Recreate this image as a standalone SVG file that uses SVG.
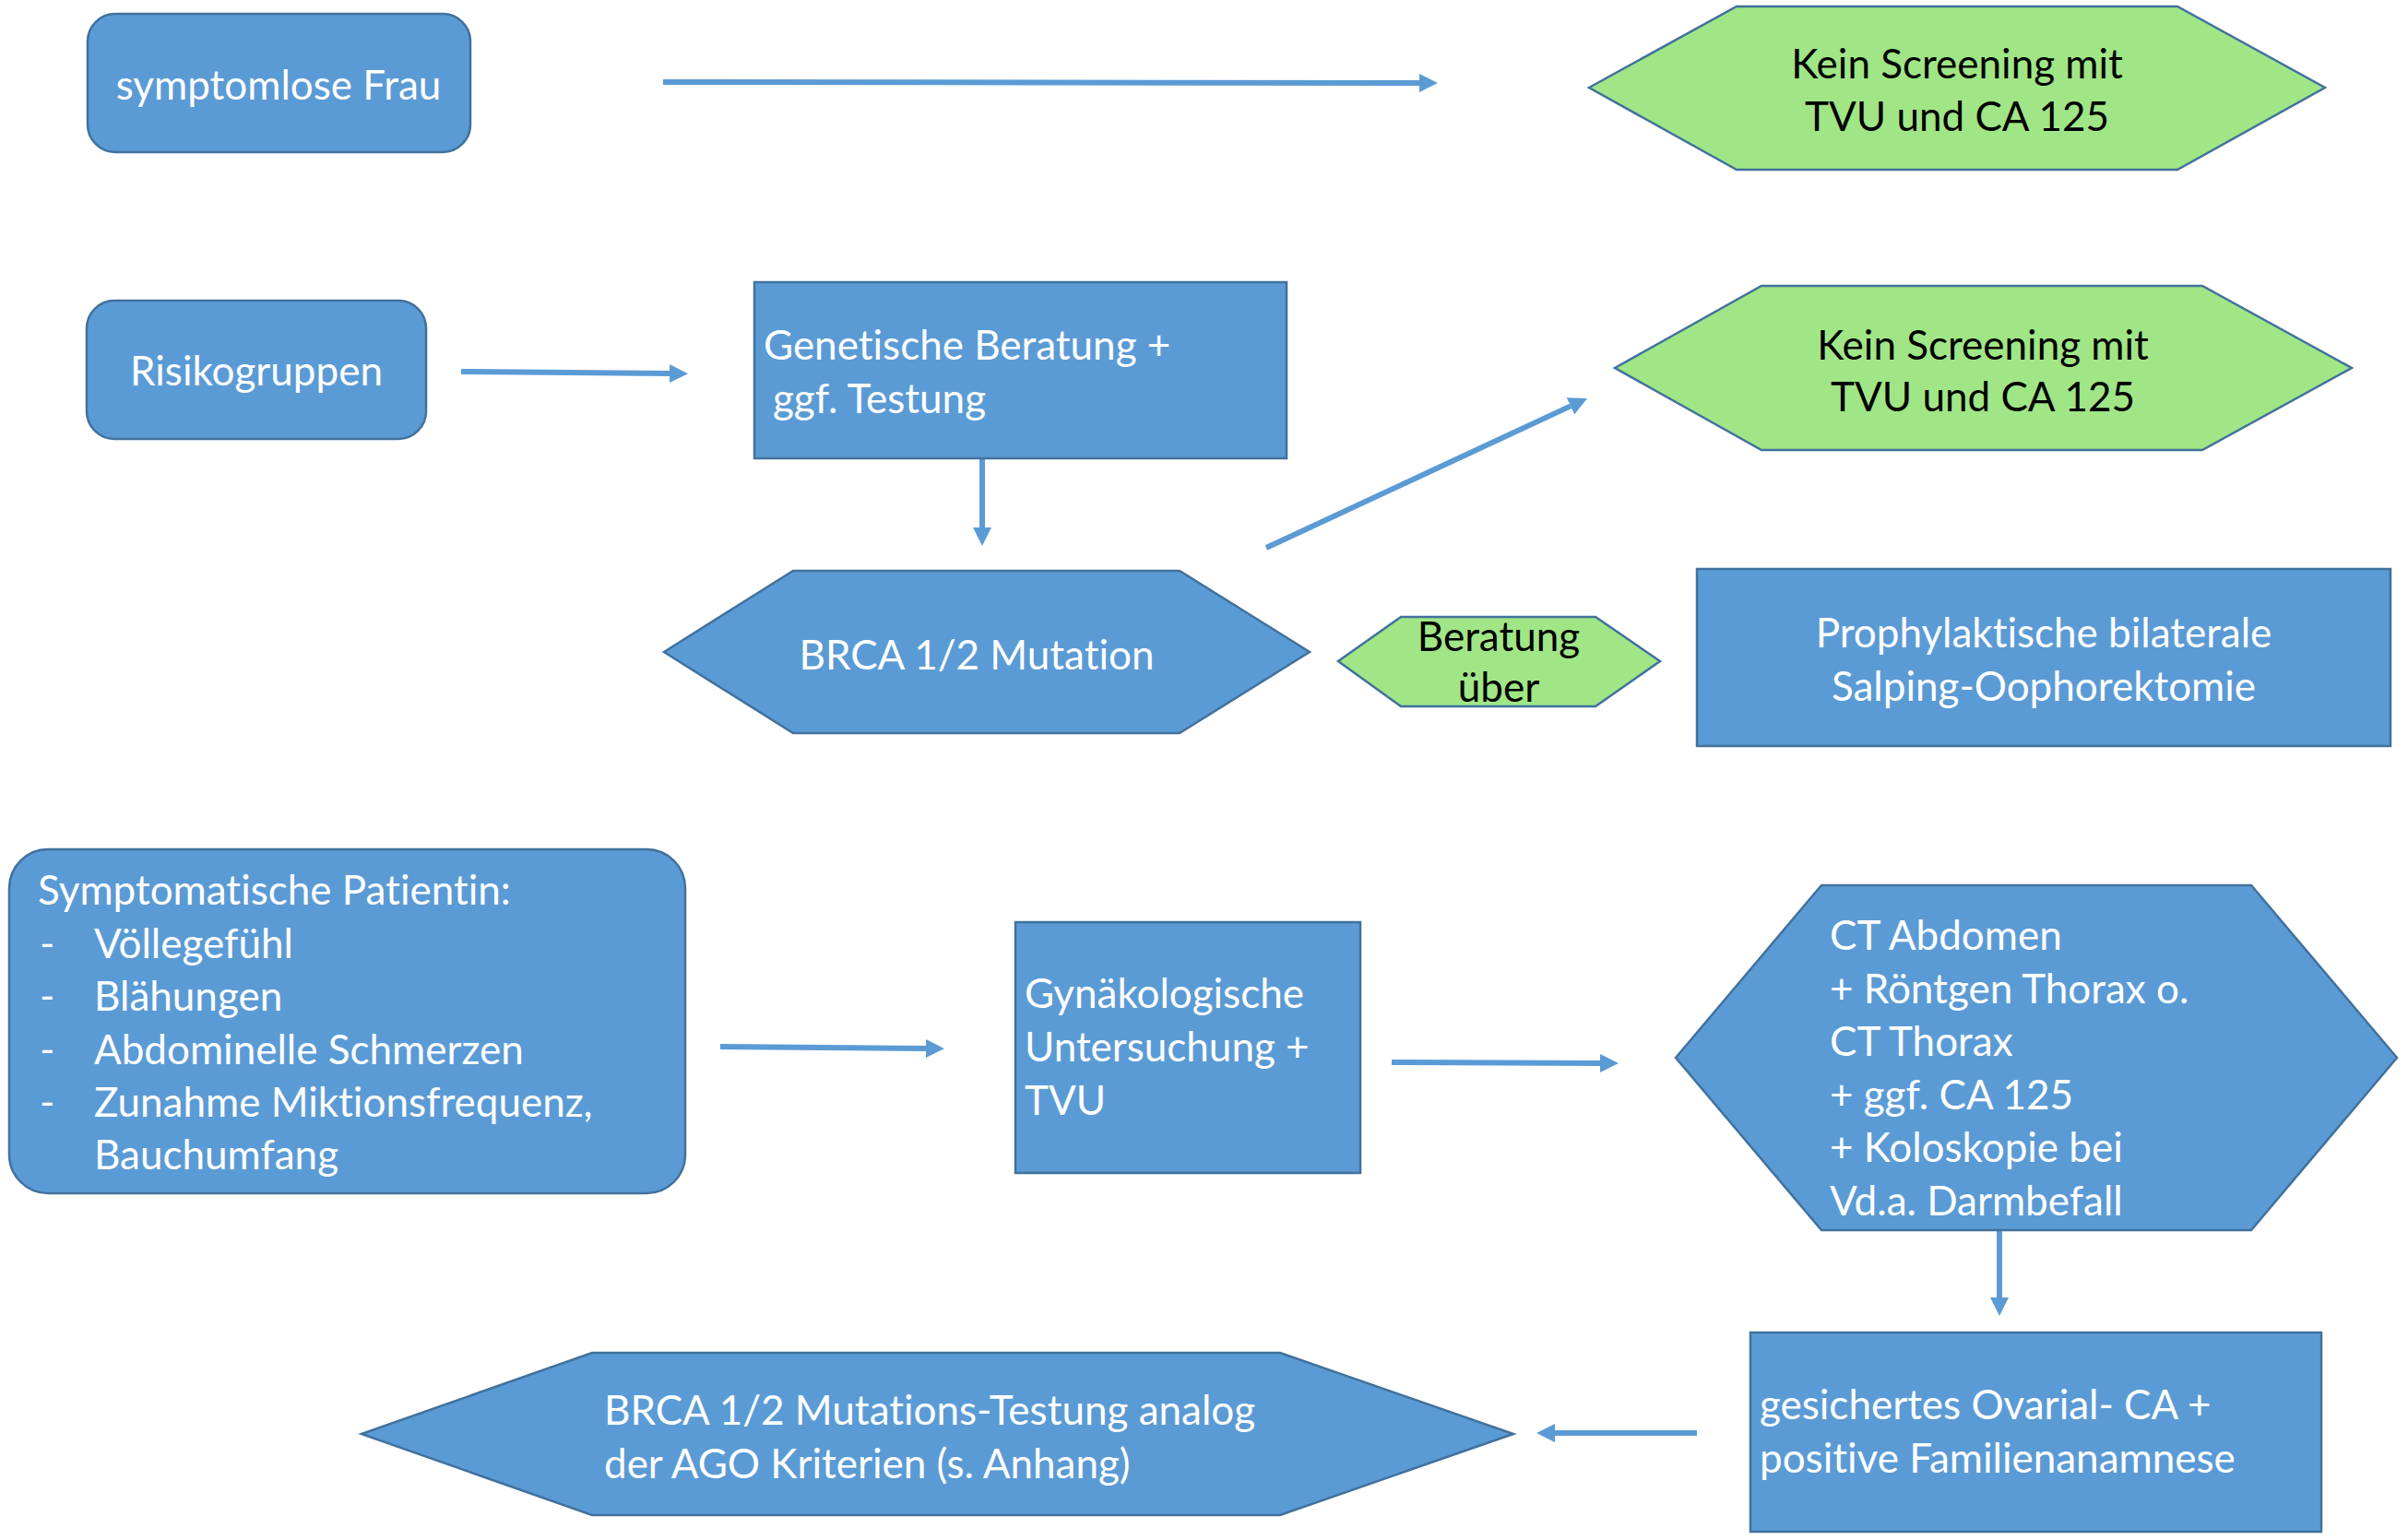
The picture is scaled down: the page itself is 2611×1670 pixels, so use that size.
<svg xmlns="http://www.w3.org/2000/svg" width="2611" height="1670" viewBox="0 0 2611 1670">
  <style>
    .blue { fill: #5b9bd5; stroke: #41719c; stroke-width: 2.5; }
    .green { fill: #a0e686; stroke: #41719c; stroke-width: 2.5; }
    .t { font-family: Lato, "Open Sans", "Liberation Sans", sans-serif; font-size: 44px; font-variant-ligatures: none; }
    .w { fill: #ffffff; }
    .k { fill: #000000; }
    .mid { text-anchor: middle; }
    .link { stroke: #5b9bd5; stroke-width: 6; fill: none; marker-end: url(#head); }
  </style>
  <defs>
    <marker id="head" markerUnits="userSpaceOnUse" markerWidth="20" markerHeight="20" viewBox="0 0 20 20" refX="0" refY="10" orient="auto">
      <path d="M0,0 L20,10 L0,20 Z" fill="#5b9bd5"/>
    </marker>
  </defs>
  <rect width="2611" height="1670" fill="#ffffff"/>

  <!-- connectors -->
  <g id="connectors">
    <line class="link" x1="719" y1="89" x2="1539" y2="90"/>
    <line class="link" x1="500" y1="403" x2="726" y2="405"/>
    <line class="link" x1="1065" y1="497" x2="1065" y2="572"/>
    <line class="link" x1="1373" y1="594" x2="1702.9" y2="440.4"/>
    <line class="link" x1="781" y1="1135" x2="1004" y2="1137"/>
    <line class="link" x1="1509" y1="1152" x2="1735" y2="1153"/>
    <line class="link" x1="2168" y1="1334" x2="2168" y2="1407"/>
    <line class="link" x1="1840" y1="1554" x2="1686" y2="1554"/>
  </g>

  <!-- row 1: symptom-free women -->
  <g id="symptomlose-frau">
    <rect class="blue" x="95" y="15" width="415" height="150" rx="30" ry="30"/>
    <text class="t w mid" x="302" y="108">symptomlose Frau</text>
  </g>
  <g id="kein-screening-1">
    <polygon class="green" points="1723,95 1883,7 2361,7 2521,95 2361,184 1883,184"/>
    <text class="t k mid" x="2122" y="85">Kein Screening mit</text>
    <text class="t k mid" x="2122" y="142">TVU und CA 125</text>
  </g>

  <!-- row 2: risk groups -->
  <g id="risikogruppen">
    <rect class="blue" x="94" y="326" width="368" height="150" rx="30" ry="30"/>
    <text class="t w mid" x="278" y="418">Risikogruppen</text>
  </g>
  <g id="genetische-beratung">
    <rect class="blue" x="818" y="306" width="577" height="191"/>
    <text class="t w" x="828" y="390">Genetische Beratung +</text>
    <text class="t w" x="838" y="448">ggf. Testung</text>
  </g>
  <g id="kein-screening-2">
    <polygon class="green" points="1751,399 1910,310 2388,310 2550,399 2388,488 1910,488"/>
    <text class="t k mid" x="2150" y="390">Kein Screening mit</text>
    <text class="t k mid" x="2150" y="446">TVU und CA 125</text>
  </g>
  <g id="brca-mutation">
    <polygon class="blue" points="720,707 860,619 1279,619 1420,707 1279,795 860,795"/>
    <text class="t w mid" x="1059" y="726">BRCA 1/2 Mutation</text>
  </g>
  <g id="beratung-ueber">
    <polygon class="green" points="1451,717 1519,669 1730,669 1800,717 1730,766 1519,766"/>
    <text class="t k mid" x="1625" y="706">Beratung</text>
    <text class="t k mid" x="1625" y="761">über</text>
  </g>
  <g id="prophylaktische-oophorektomie">
    <rect class="blue" x="1840" y="617" width="752" height="192"/>
    <text class="t w mid" x="2216" y="702">Prophylaktische bilaterale</text>
    <text class="t w mid" x="2216" y="760">Salping-Oophorektomie</text>
  </g>

  <!-- row 3: symptomatic patients -->
  <g id="symptomatische-patientin">
    <rect class="blue" x="10" y="921" width="733" height="373" rx="42" ry="42"/>
    <text class="t w" x="41" y="981">Symptomatische Patientin:</text>
    <text class="t w" x="43" y="1039">-</text>
    <text class="t w" x="102" y="1039">Völlegefühl</text>
    <text class="t w" x="43" y="1096">-</text>
    <text class="t w" x="102" y="1096">Blähungen</text>
    <text class="t w" x="43" y="1154">-</text>
    <text class="t w" x="102" y="1154">Abdominelle Schmerzen</text>
    <text class="t w" x="43" y="1211">-</text>
    <text class="t w" x="102" y="1211">Zunahme Miktionsfrequenz,</text>
    <text class="t w" x="102" y="1268">Bauchumfang</text>
  </g>
  <g id="gynaekologische-untersuchung">
    <rect class="blue" x="1101" y="1000" width="374" height="272"/>
    <text class="t w" x="1111" y="1093">Gynäkologische</text>
    <text class="t w" x="1111" y="1151">Untersuchung +</text>
    <text class="t w" x="1111" y="1209">TVU</text>
  </g>
  <g id="ct-abdomen">
    <polygon class="blue" points="1817,1147 1975,960 2441,960 2599,1147 2441,1334 1975,1334"/>
    <text class="t w" x="1984" y="1030">CT Abdomen</text>
    <text class="t w" x="1984" y="1088">+ Röntgen Thorax o.</text>
    <text class="t w" x="1984" y="1145">CT Thorax</text>
    <text class="t w" x="1984" y="1203">+ ggf. CA 125</text>
    <text class="t w" x="1984" y="1260">+ Koloskopie bei</text>
    <text class="t w" x="1984" y="1318">Vd.a. Darmbefall</text>
  </g>
  <g id="gesichertes-ovarial-ca">
    <rect class="blue" x="1898" y="1445" width="619" height="216"/>
    <text class="t w" x="1908" y="1539">gesichertes Ovarial- CA +</text>
    <text class="t w" x="1908" y="1597">positive Familienanamnese</text>
  </g>
  <g id="brca-testung">
    <polygon class="blue" points="392,1555 642,1467 1388,1467 1641,1555 1388,1643 642,1643"/>
    <text class="t w" x="655" y="1545">BRCA 1/2 Mutations-Testung analog</text>
    <text class="t w" x="655" y="1603">der AGO Kriterien (s. Anhang)</text>
  </g>
</svg>
